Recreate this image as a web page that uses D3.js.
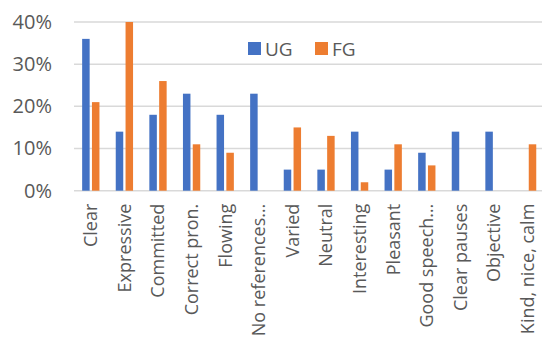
<!DOCTYPE html>
<html>
<head>
<meta charset="utf-8">
<script src="https://cdn.jsdelivr.net/npm/d3@7"></script>
<style>
body { margin: 0; background: #fff; }
text { font-family: "Open Sans", "Liberation Sans", sans-serif; fill: #595959; }
</style>
</head>
<body>
<div id="chart"></div>
<script>
var categories = ["Clear", "Expressive", "Committed", "Correct pron.", "Flowing", "No references…",
  "Varied", "Neutral", "Interesting", "Pleasant", "Good speech…", "Clear pauses", "Objective", "Kind, nice, calm"];
var series = ["UG", "FG"];
var ugValues = [36, 14, 18, 23, 18, 23, 5, 5, 14, 5, 9, 14, 14, 0];
var fgValues = [21, 40, 26, 11, 9, 0, 15, 13, 2, 11, 6, 0, 0, 11];
var yTicks = [0, 10, 20, 30, 40];
var colors = {UG: "#4472C4", FG: "#ED7D31"};

var width = 542, height = 338;
var plot = {left: 74, top: 22, bottom: 190.7};
var step = 33.6;

var svg = d3.select("#chart").append("svg")
  .attr("width", width)
  .attr("height", height);

var x0 = d3.scaleBand()
  .domain(categories)
  .range([plot.left, plot.left + step * categories.length])
  .paddingInner(0.485)
  .paddingOuter(0.2425);

var x1 = d3.scaleBand()
  .domain(series)
  .range([0, x0.bandwidth()])
  .paddingInner(0.235);

var y = d3.scaleLinear()
  .domain([0, 40])
  .range([plot.bottom, plot.top]);

// gridlines
svg.append("g")
  .selectAll("line")
  .data(yTicks)
  .join("line")
  .attr("x1", plot.left)
  .attr("x2", width)
  .attr("y1", d => y(d))
  .attr("y2", d => y(d))
  .attr("stroke", "#d9d9d9")
  .attr("stroke-width", 1.5);

// y axis labels
var yaxis = d3.axisLeft(y)
  .tickValues(yTicks)
  .tickFormat(d => d + "%")
  .tickSize(0)
  .tickPadding(0);

svg.append("g")
  .attr("transform", "translate(52,0)")
  .call(yaxis)
  .call(g => g.select(".domain").remove())
  .selectAll("text")
  .attr("font-size", "20px")
  .attr("font-family", null)
  .attr("fill", "#595959");

// bars
var rows = categories.map(function(c, i) {
  return {cat: c, UG: ugValues[i], FG: fgValues[i]};
});

var groups = svg.append("g")
  .selectAll("g")
  .data(rows)
  .join("g")
  .attr("transform", d => "translate(" + x0(d.cat) + ",0)");

groups.selectAll("rect")
  .data(d => series.map(s => ({key: s, value: d[s]})))
  .join("rect")
  .attr("x", d => x1(d.key))
  .attr("width", x1.bandwidth())
  .attr("y", d => y(d.value))
  .attr("height", d => y(0) - y(d.value))
  .attr("fill", d => colors[d.key]);

// x axis labels
var xaxis = d3.axisBottom(x0).tickSize(0).tickPadding(0);
svg.append("g")
  .attr("transform", "translate(0," + plot.bottom + ")")
  .call(xaxis)
  .call(g => g.select(".domain").remove())
  .selectAll("text")
  .attr("font-size", "18px")
  .attr("font-family", null)
  .attr("fill", "#595959")
  .attr("text-anchor", "end")
  .attr("transform", "rotate(-90)")
  .attr("x", -13)
  .attr("y", 0)
  .attr("dy", "0.35em");

// legend
var legend = svg.append("g")
  .selectAll("g")
  .data(series)
  .join("g")
  .attr("transform", (d, i) => "translate(" + (248 + i * 67) + ",42)");

legend.append("rect")
  .attr("width", 13)
  .attr("height", 13)
  .attr("fill", d => colors[d]);

legend.append("text")
  .attr("x", 17)
  .attr("y", 7)
  .attr("dy", "0.35em")
  .attr("font-size", "19px")
  .text(d => d);
</script>
</body>
</html>
